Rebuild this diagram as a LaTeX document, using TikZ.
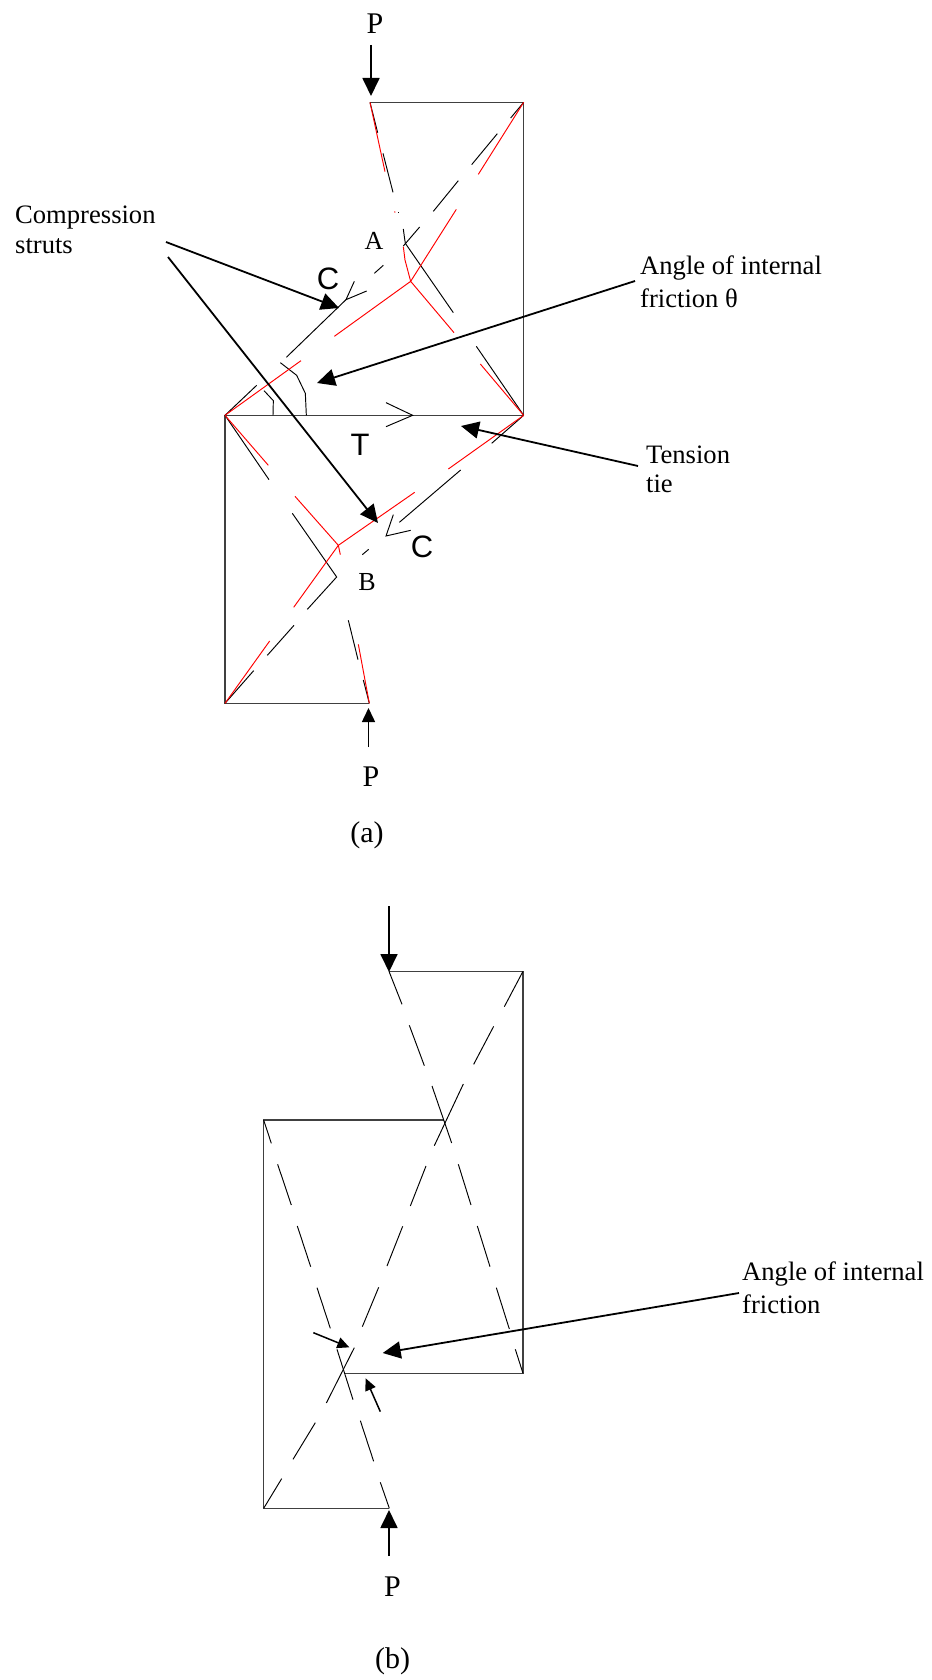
\documentclass[tikz,border=0pt]{standalone}
\usepackage{fontspec}
\setmainfont{Liberation Serif}
\newfontfamily\arialf{Liberation Sans}
\usetikzlibrary{arrows.meta}
\tikzset{
 frame/.style={draw=black!75,line width=1.25pt},
 thin line/.style={draw=black,line width=0.95pt},
 redline/.style={draw=red,line width=0.95pt},
 thickarrow/.style={draw=black,line width=1.8pt,-{Triangle[length=18pt,width=17pt]}},
 smallarrow/.style={draw=black,line width=1.5pt,-{Triangle[length=12pt,width=11pt]}},
 lbl/.style={inner sep=0pt,align=left,anchor=west,font=\fontsize{26.6}{32}\selectfont},
 big/.style={inner sep=0pt,font=\fontsize{30}{32}\selectfont},
 sans/.style={inner sep=0pt,font=\arialf\fontsize{31}{32}\selectfont},
}
\begin{document}
\begin{tikzpicture}[x=1pt,y=-1pt]
\useasboundingbox (0,0) rectangle (931,1680);
% ---------- part (a)
\coordinate (TL) at (370,102.3);
\coordinate (TR) at (523.7,102.3);
\coordinate (MR) at (523.7,415.3);
\coordinate (ML) at (225,415.3);
\coordinate (BL) at (225,703.3);
\coordinate (BR) at (369.3,703.3);
\draw[frame] (TL) -- (TR) -- (MR) -- (ML) -- (BL) -- (BR);
\begin{scope}[shift={(200,80)},scale=0.33333]
 \draw[thin line] (510,67)--(533,158);
 \draw[thin line] (549,220)--(579,337);
 \draw[thin line] (594,397)--(596,397);
 \draw[thin line] (610,447)--(613,470)--(616,490)--(760,698);
 \draw[thin line] (610,498)--(659,441);
 \draw[thin line] (700,394)--(775,302);
 \draw[thin line] (815,254)--(892,161);
 \draw[thin line] (932,114)--(971,67);
 \draw[thin line] (523,580)--(550,556);
 \draw[thin line] (463,604)--(438,659)--(500,633);
 \draw[thin line] (438,659)--(259,832);
 \draw[thin line] (75,1006)--(170,916);
 \draw[thin line] (241,848)--(290,886)--(316,940)--(319,1006);
 \draw[thin line] (192,932)--(220,962)--(219,1006);
 \draw[thin line] (829,799)--(971,1006);
 \draw[thin line] (558,968)--(638,1006)--(558,1040);
 \draw[redline] (510,67)--(555,275);
 \draw[redline] (583,395)--(586,397);
 \draw[redline] (610,500)--(615,540)--(632,604)--(769,388);
 \draw[redline] (632,604)--(403,769);
 \draw[redline] (632,604)--(762,758);
 \draw[redline] (835,283)--(971,67);
 \draw[redline] (303,842)--(75,1006);
 \draw[redline] (841,852)--(971,1006);
\end{scope}
\begin{scope}[shift={(200,400)},scale=0.33333]
 \draw[thin line] (75,46)--(207,239);
 \draw[thin line] (971,46)--(875,130);
 \draw[thin line] (782,210)--(598,367);
 \draw[thin line] (580,344)--(558,408)--(632,391);
 \draw[thin line] (277,340)--(410,531)--(322,628);
 \draw[thin line] (506,448)--(487,464);
 \draw[thin line] (282,676)--(202,766);
 \draw[thin line] (161,812)--(75,910);
 \draw[thin line] (445,661)--(474,779);
 \draw[thin line] (490,840)--(508,910);
 \draw[redline] (75,46)--(205,196);
 \draw[redline] (971,46)--(745,207);
 \draw[redline] (644,277)--(415,436)--(421,464);
 \draw[redline] (415,436)--(285,289);
 \draw[redline] (415,436)--(281,622);
 \draw[redline] (209,723)--(75,910);
 \draw[redline] (475,733)--(508,910);
\end{scope}
\node[big] (pa1) at (375,24) {P};
\coordinate (pa1s) at (371,45);
\coordinate (pa1e) at (371,96);
\draw[thickarrow] (pa1s) -- (pa1e);
\node[big] (pa2) at (371,777) {P};
\coordinate (pa2s) at (368.5,747);
\coordinate (pa2e) at (368.5,708);
\draw[smallarrow,-{Triangle[length=14pt,width=13pt]}] (pa2s) -- (pa2e);
\node[big] (capa) at (367,835) {(a)};
\node[inner sep=0pt,anchor=west,font=\fontsize{26.6}{30}\selectfont,align=left] (comp) at (15,229.5) {Compression\\struts};
\node[inner sep=0pt,anchor=west,font=\fontsize{26.6}{33}\selectfont,align=left] (angle) at (640,282) {Angle of internal\\friction θ};
\node[inner sep=0pt,anchor=west,font=\fontsize{26.6}{29}\selectfont,align=left] (tens) at (646,469) {Tension\\tie};
\node[inner sep=0pt,font=\fontsize{26}{31}\selectfont] (A) at (374,241) {A};
\node[inner sep=0pt,font=\fontsize{26}{31}\selectfont] (B) at (367,582) {B};
\node[sans] (C1) at (328,279) {C};
\node[sans] (T1) at (360,445) {T};
\node[sans] (C2) at (422,547) {C};
\coordinate (c1s) at (166,242);
\coordinate (c1e) at (339,308);
\coordinate (c2s) at (168,257);
\coordinate (c2e) at (378,523);
\coordinate (a1s) at (635,281);
\coordinate (a1e) at (317,383);
\coordinate (t1s) at (638,466);
\coordinate (t1e) at (461,426);
\draw[thickarrow] (c1s) -- (c1e);
\draw[thickarrow] (c2s) -- (c2e);
\draw[thickarrow] (a1s) -- (a1e);
\draw[thickarrow] (t1s) -- (t1e);
% ---------- part (b)
\coordinate (bTL) at (389,971.3);
\coordinate (bTR) at (523,971.3);
\coordinate (bMR) at (523,1373.3);
\coordinate (bMM) at (344.3,1373.3);
\coordinate (bUL) at (263.7,1120);
\coordinate (bUM) at (444.3,1120);
\coordinate (bBL) at (263.7,1508.3);
\coordinate (bBR) at (389.3,1508.3);
\draw[frame] (bTL) -- (bTR) -- (bMR) -- (bMM);
\draw[frame] (bUM) -- (bUL) -- (bBL) -- (bBR);
\begin{scope}[shift={(250,960)},scale=0.33333]
 \draw[thin line] (417,34)--(456,133);
 \draw[thin line] (478,196)--(523,317);
 \draw[thin line] (546,378)--(605,549);
 \draw[thin line] (625,613)--(663,735);
 \draw[thin line] (682,798)--(720,920);
 \draw[thin line] (819,34)--(763,140);
 \draw[thin line] (731,199)--(671,313);
 \draw[thin line] (640,372)--(553,557);
 \draw[thin line] (528,618)--(481,738);
 \draw[thin line] (458,799)--(411,918);
 \draw[thin line] (41,480)--(64,550);
 \draw[thin line] (83,613)--(124,735);
 \draw[thin line] (142,798)--(182,920);
\end{scope}
\begin{scope}[shift={(250,1260)},scale=0.33333]
 \draw[thin line] (739,83)--(778,207);
 \draw[thin line] (796,268)--(819,340);
 \draw[thin line] (386,82)--(337,200);
 \draw[thin line] (313,263)--(229,429);
 \draw[thin line] (196,488)--(129,598);
 \draw[thin line] (95,656)--(41,745);
 \draw[thin line] (201,83)--(241,205);
 \draw[thin line] (261,268)--(309,419);
 \draw[thin line] (331,482)--(371,604);
 \draw[thin line] (391,667)--(418,745);
 \coordinate (s1s) at (190,218);
 \coordinate (s1e) at (298,262);
 \coordinate (s2s) at (391,455);
 \coordinate (s2e) at (347,355);
\end{scope}
\draw[smallarrow] (s1s) -- (s1e);
\draw[smallarrow] (s2s) -- (s2e);
\coordinate (b1s) at (739,1293);
\coordinate (b1e) at (382.7,1353);
\draw[thickarrow] (b1s) -- (b1e);
\coordinate (b2s) at (389,906);
\coordinate (b2e) at (389,972);
\draw[thickarrow] (b2s) -- (b2e);
\coordinate (b3s) at (389,1556);
\coordinate (b3e) at (389,1510);
\draw[thickarrow] (b3s) -- (b3e);
\node[inner sep=0pt,anchor=west,font=\fontsize{26.6}{33}\selectfont,align=left] (angleb) at (742,1288) {Angle of internal\\friction};
\node[big] (pb) at (392.5,1587) {P};
\node[big] (capb) at (392.5,1661) {(b)};
\end{tikzpicture}
\end{document}
